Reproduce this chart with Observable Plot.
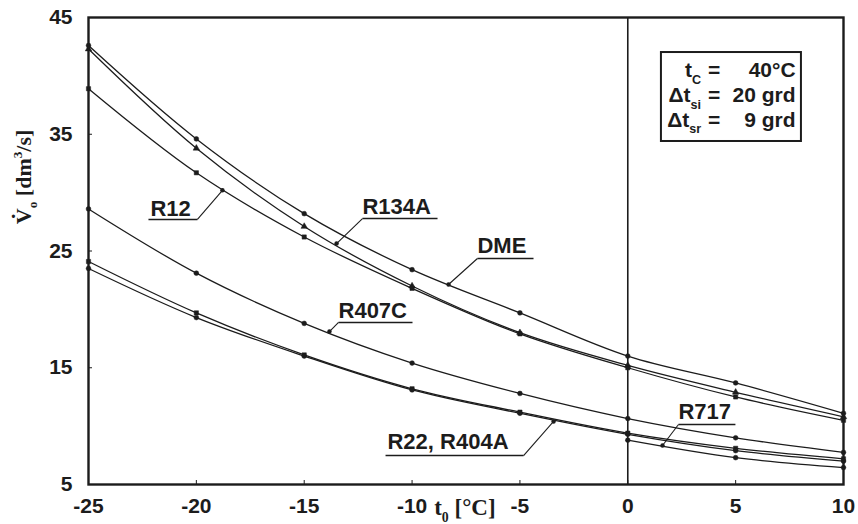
<!DOCTYPE html>
<html><head><meta charset="utf-8">
<script src="https://cdn.jsdelivr.net/npm/d3@7"></script>
<script src="https://cdn.jsdelivr.net/npm/@observablehq/plot@0.6"></script>
<style>body{margin:0;background:#fff}</style>
</head><body><div id="chart"></div>
<script>
// ---- data ----
const temps = [-25, -20, -15, -10, -5, 0, 5, 10];
const DME   = [42.6, 34.6, 28.2, 23.4, 19.7, 16.0, 13.7, 11.1];
const R134A = [42.3, 33.8, 27.1, 22.0, 18.0, 15.2, 12.9, 10.8];
const R12   = [38.9, 31.7, 26.2, 21.8, 17.9, 15.0, 12.5, 10.5];
const R407C = [28.6, 23.1, 18.8, 15.4, 12.8, 10.65, 9.0, 7.75];
const R22   = [24.1, 19.7, 16.1, 13.2, 11.2, 9.4, 8.1, 7.2];
const R404A = [23.5, 19.3, 16.0, 13.1, 11.1, 9.3, 7.9, 7.0];
const R717  = [null, null, null, null, null, 8.8, 7.3, 6.45];
const seriesNames = ["DME", "R134A", "R12", "R407C", "R22", "R404A", "R717"];
const seriesValues = [DME, R134A, R12, R407C, R22, R404A, R717];
const seriesSymbols = ["circle", "triangle", "square", "circle", "square", "circle", "circle"];
const xTicks = [-25, -20, -15, -10, -5, 0, 5, 10];
const yTicks = [5, 15, 25, 35, 45];
const xTitle = "t_{0} [°C]";
const yTitle = "V\u0307_{o} [dm^{3}/s]";

// annotation labels (data units)
const labelText = ["R12", "R134A", "DME", "R407C", "R22, R404A", "R717"];
const labelX    = [-22.13, -12.30, -6.97, -13.41, -11.14, 2.35];
const labelY    = [28.64, 28.73, 25.39, 19.90, 8.68, 11.25];
const underX1   = [-22.22, -12.30, -6.97, -13.41, -11.23, 2.35];
const underX2   = [-19.95, -8.82, -4.37, -9.98, -4.83, 4.99];
const underY    = [27.70, 27.78, 24.36, 18.88, 7.48, 10.14];
const leaderX1  = [-19.95, -12.30, -6.97, -13.41, -4.83, 2.35];
const leaderX2  = [-18.79, -13.50, -8.31, -13.83, -3.44, 1.61];
const leaderY2  = [30.2, 25.64, 22.13, 18.10, 10.4, 8.34];

// condition box
const boxLeft = ["t_{C}", "Δt_{si}", "Δt_{sr}"];
const boxRight = ["40°C", "20 grd", "9 grd"];
const boxRowY = [40.46, 38.32, 36.18];
const boxBounds = {x1: 1.56, x2: 8.05, y1: 34.38, y2: 42.0};
const boxEqX = 4.0, boxLeftX = 3.4, boxRightX = 7.78;
// axis title positions (data units, outside the domain)
const yTitleX = -28.0, yTitleStartY = 27.3, xTitleX = -7.55;

// ---- build ----
const rows = seriesNames.flatMap((name, s) =>
  temps.map((t, i) => ({name, t, v: seriesValues[s][i], sym: seriesSymbols[s]}))
       .filter(d => d.v != null));
const idx = labelText.map((_, i) => i);
const ink = "#1c1c1c";
const sans = "'Liberation Sans', Arial, sans-serif";
const serif = "'Liberation Serif', 'Times New Roman', serif";

const plot = Plot.plot({
  width: 858, height: 524,
  marginLeft: 88, marginRight: 15, marginTop: 17, marginBottom: 40,
  style: {fontFamily: sans, fontSize: "21px", color: ink, background: "#fff", overflow: "visible"},
  x: {domain: [-25, 10]},
  y: {domain: [5, 45]},
  marks: [
    Plot.axisX({ticks: xTicks, tickFormat: d => String(d), tickSize: -4, tickPadding: 18,
                label: null, fontWeight: "bold", fontSize: 21}),
    Plot.axisY({ticks: yTicks, tickFormat: d => String(d), tickSize: -4, tickPadding: 20,
                label: null, fontWeight: "bold", fontSize: 21}),
    Plot.ruleX([0], {stroke: ink, strokeWidth: 1.6}),
    Plot.line(rows, {x: "t", y: "v", z: "name", curve: "catmull-rom", stroke: ink, strokeWidth: 1.3}),
    Plot.dot(rows, {x: "t", y: "v", symbol: "sym", r: 2.4, fill: ink, stroke: ink, strokeWidth: 0.5}),
    // annotations
    Plot.text(idx, {x: i => labelX[i], y: i => labelY[i], text: i => labelText[i],
                    textAnchor: "start", lineAnchor: "middle", fontWeight: "bold", fontSize: 22, fill: ink}),
    Plot.link(idx, {x1: i => underX1[i], x2: i => underX2[i], y1: i => underY[i], y2: i => underY[i],
                    stroke: ink, strokeWidth: 1.4}),
    Plot.link(idx, {x1: i => leaderX1[i], x2: i => leaderX2[i], y1: i => underY[i], y2: i => leaderY2[i],
                    stroke: ink, strokeWidth: 1.1}),
    Plot.dot(idx, {x: i => leaderX2[i], y: i => leaderY2[i], r: 2.2, fill: ink}),
    // condition box
    Plot.rect([boxBounds], {x1: "x1", x2: "x2", y1: "y1", y2: "y2", fill: "#fff", stroke: ink, strokeWidth: 2}),
    Plot.text(boxLeft, {x: boxLeftX, y: (d, i) => boxRowY[i], text: d => d, textAnchor: "end",
                        lineAnchor: "middle", fontWeight: "bold", fontSize: 21, fill: ink}),
    Plot.text(boxLeft, {x: boxEqX, y: (d, i) => boxRowY[i], text: () => "=", textAnchor: "middle",
                        lineAnchor: "middle", fontWeight: "bold", fontSize: 21, fill: ink}),
    Plot.text(boxRight, {x: boxRightX, y: (d, i) => boxRowY[i], text: d => d, textAnchor: "end",
                         lineAnchor: "middle", fontWeight: "bold", fontSize: 21, fill: ink}),
    // axis titles
    Plot.text([xTitle], {x: xTitleX, frameAnchor: "bottom", dy: 23, text: d => d, lineAnchor: "middle",
                         textAnchor: "middle", fontFamily: serif, fontWeight: "bold", fontSize: 23, fill: ink}),
    Plot.text([yTitle], {x: yTitleX, y: yTitleStartY, rotate: -90, text: d => d, clip: false,
                         textAnchor: "start", lineAnchor: "middle", fontFamily: serif, fontWeight: "bold",
                         fontSize: 22, fill: ink}),
    Plot.frame({stroke: ink, strokeWidth: 2.4})
  ]
});
document.getElementById("chart").appendChild(plot);

// turn _{..} and ^{..} markup into sub/superscript tspans
d3.select(plot).selectAll("text").each(function () {
  const t = this.textContent;
  if (!/[_^]\{/.test(t)) return;
  const fs = parseFloat(getComputedStyle(this).fontSize) || 20;
  const parts = [];
  const re = /([_^])\{([^}]*)\}/g;
  let last = 0, m;
  while ((m = re.exec(t))) {
    if (m.index > last) parts.push({kind: "n", s: t.slice(last, m.index)});
    parts.push({kind: m[1], s: m[2]});
    last = re.lastIndex;
  }
  if (last < t.length) parts.push({kind: "n", s: t.slice(last)});
  const el = d3.select(this);
  el.text(null);
  let shift = 0;
  for (const p of parts) {
    const target = p.kind === "_" ? 0.3 * fs : p.kind === "^" ? -0.42 * fs : 0;
    const ts = el.append("tspan").text(p.s).attr("dy", target - shift);
    if (p.kind !== "n") ts.attr("font-size", 0.6 * fs);
    shift = target;
  }
});
</script>
</body></html>
